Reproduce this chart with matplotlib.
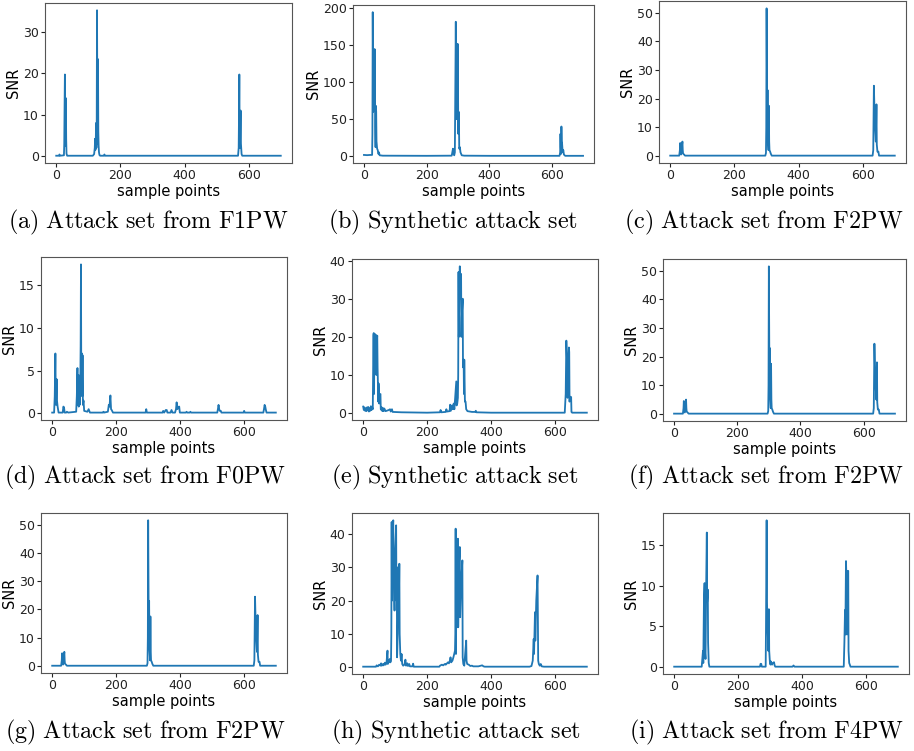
import matplotlib
matplotlib.use("Agg")
import matplotlib.pyplot as plt

plt.rcParams['mathtext.fontset'] = 'cm'
plt.rcParams['font.family'] = ['DejaVu Sans']

# ---------------- data (sample index, SNR) ----------------
a_pts = [(0,0.1),(9,0.1),(10,0.4),(12,0.1),(24,0.2),(25,3.0),(26,12.0),(27,19.7),(28,9.0),(29,2.5),
         (30,14.0),(31,4.0),(32,0.6),(34,0.1),(114,0.1),(118,0.5),(120,2.0),(121,4.2),(122,1.5),(123,3.0),
         (124,8.0),(125,2.0),(126,6.0),(127,35.2),(128,12.0),(129,3.0),(130,23.4),(131,6.0),(132,2.5),
         (133,1.0),(134,0.5),(135,0.2),(137,0.1),(148,0.1),(150,0.4),(152,0.1),(566,0.1),(568,2.0),
         (569,10.0),(570,19.7),(571,5.0),(572,2.0),(574,11.0),(575,3.0),(577,0.5),(579,0.1),(699,0.1)]

b_pts = [(0,1.5),(10,1.2),(20,1.5),(26,1.5),(27,30),(28,195),(29,120),(30,60),(31,143),(32,100),(33,62),
         (34,145),(35,110),(36,40),(37,12),(38,68),(39,60),(40,20),(42,10),(44,8),(46,3),(48,5),(50,1),
         (60,0.5),(200,0.3),(280,0.5),(284,10),(286,3),(288,1),(290,5),(292,120),(293,182),(294,100),
         (295,50),(296,148),(297,120),(298,52),(299,152),(300,100),(301,30),(302,60),(303,55),(304,10),
         (306,12),(308,5),(312,1),(320,0.5),(400,0.3),(624,0.3),(626,5),(627,30),(628,12),(629,3),
         (630,40),(631,20),(632,18),(634,5),(636,8),(638,2),(642,0.3),(699,0.3)]

c_pts = [(0,0.1),(28,0.1),(30,2),(31,4.5),(32,1),(34,0.5),(36,3),(38,5),(39,2),(40,0.8),(43,0.5),(46,0.1),
         (296,0.1),(298,1),(299,10),(300,51.5),(301,30),(302,8),(303,23),(304,6),(306,2),(307,17.5),
         (308,5),(309,2),(311,1.5),(313,0.8),(316,0.1),(630,0.1),(632,2),(634,24.5),(636,15),(638,9.5),
         (640,5),(642,18),(643,4),(645,1.5),(648,1.5),(650,0.1),(699,0.1)]

d_pts = [(0,0.1),(6,0.1),(8,2),(10,7),(11,3),(12,1),(14,4),(15,1.5),(17,0.8),(20,0.1),(33,0.1),(35,0.8),
         (37,0.7),(39,0.1),(44,0.1),(46,0.2),(50,0.1),(75,0.2),(77,2),(79,5.3),(80,1),(82,4.5),(83,0.8),
         (85,4),(86,1),(88,4),(89,8),(90,17.4),(91,3),(93,7),(94,2),(95,6.8),(96,1),(98,1.5),(100,0.3),
         (110,0.2),(114,0.5),(118,0.1),(158,0.1),(160,0.2),(162,0.1),(174,0.2),(177,1),(179,0.8),
         (182,2.1),(184,0.5),(186,0.4),(190,0.1),(292,0.1),(294,0.5),(296,0.1),(345,0.1),(347,0.3),
         (350,0.1),(355,0.4),(358,0.4),(360,0.1),(370,0.1),(373,0.4),(376,0.1),(384,0.1),(387,0.5),
         (389,1.3),(391,0.5),(393,0.8),(395,0.6),(397,0.8),(399,0.1),(418,0.1),(420,0.2),(422,0.1),
         (430,0.1),(432,0.2),(434,0.1),(516,0.1),(518,0.5),(520,1),(522,0.5),(524,0.3),(527,0.3),
         (529,0.1),(598,0.1),(600,0.3),(602,0.1),(660,0.1),(662,0.5),(664,1),(666,0.8),(668,0.4),
         (670,0.1),(699,0.1)]

e_pts = [(0,1.7),(2,0.8),(4,1.5),(6,0.6),(8,1.2),(10,0.5),(12,1.5),(14,0.7),(16,1.6),(18,0.4),(20,1.2),
         (22,0.6),(24,1.8),(26,0.8),(28,1.5),(30,1),(31,10),(32,20.5),(33,21),(34,5),(35,20),(36,20.8),
         (37,12),(38,20.3),(39,19),(40,20.5),(41,10),(42,20.2),(43,19.5),(44,20.3),(45,12),(46,8),(47,3),
         (48,7.8),(49,6),(50,2.5),(52,4.8),(54,5),(55,1),(57,0.8),(58,1.5),(60,0.5),(62,1.3),(64,0.5),
         (66,1.2),(70,0.5),(80,0.8),(84,1),(86,0.4),(90,1),(92,0.3),(120,0.2),(200,0.1),(240,0.2),
         (242,0.8),(244,0.2),(258,0.3),(260,1),(262,0.4),(270,0.5),(272,2.2),(274,0.6),(278,2),(280,1),
         (283,2.5),(285,1),(291,8.3),(292,2),(294,2.5),(296,4),(297,10),(298,37),(299,20),(302,38.5),
         (303,30),(306,36.5),(307,20),(308,25),(311,30),(312,12),(314,14),(315,5),(316,14),(318,3),
         (320,3),(322,1),(326,0.5),(340,0.3),(350,0.3),(352,0.6),(354,0.2),(400,0.1),(630,0.1),(633,5),
         (635,19),(637,14),(639,4),(641,13),(643,17.2),(644,16),(645,3),(646,4.3),(650,4.2),(651,0.3),
         (653,0.1),(699,0.1)]

h_pts = [(0,0.2),(40,0.2),(42,0.6),(46,0.3),(50,0.8),(54,0.5),(56,1.2),(58,0.5),(62,1),(64,0.6),(68,1.4),
         (70,0.8),(73,1.5),(76,5),(77,1),(79,2),(81,1.5),(83,2.5),(85,1.5),(87,2),(88,10),(89,43.5),
         (90,20),(91,40),(94,44),(95,30),(98,17),(100,35),(103,42.5),(104,20),(105,30),(106,3),(108,10),
         (110,25),(111,15),(113,31),(114,10),(116,4),(118,2),(120,4),(122,1),(125,0.5),(129,0.8),
         (132,2.3),(134,0.5),(138,1.2),(140,0.4),(144,1),(146,0.3),(154,0.3),(156,1.1),(158,0.2),
         (238,0.2),(240,0.5),(246,0.8),(250,0.6),(255,1),(258,0.8),(262,1.2),(265,1.5),(268,1.2),
         (271,2),(273,3),(275,1.5),(279,2),(282,3),(287,5),(288,10),(289,41.5),(290,4),(292,35),
         (294,12),(296,38.5),(297,12),(299,30),(302,36),(303,15),(306,25),(310,32),(311,3),(313,1),
         (316,0.5),(318,3),(322,8),(323,2),(325,1),(330,0.8),(335,0.4),(340,0.5),(344,0.3),(360,0.3),
         (372,0.6),(376,0.3),(380,0.2),(520,0.2),(526,0.4),(530,2),(533,8.5),(534,4),(537,16.5),
         (538,8),(541,20),(545,27.5),(546,15),(547,2),(549,1),(552,0.5),(555,1),(558,0.3),(565,0.2),
         (699,0.2)]

i_pts = [(0,0.05),(86,0.05),(88,1),(90,2),(91,0.5),(93,8),(95,10.3),(96,2),(98,1),(100,10),(102,16.5),
         (103,8),(105,9.5),(106,3),(108,0.5),(110,0.05),(268,0.05),(270,0.4),(272,0.4),(274,0.05),
         (286,0.05),(287,5),(289,18),(290,8),(292,5),(294,2),(295,4),(296,7.1),(297,2),(299,0.7),
         (301,0.3),(302,0.7),(304,0.4),(306,0.3),(308,0.5),(312,0.6),(314,0.2),(316,0.05),(370,0.05),
         (373,0.2),(376,0.05),(530,0.05),(532,3),(534,7),(535,4),(537,13),(539,10),(540,4),(542,11.8),
         (544,11.8),(545,2),(547,0.5),(549,0.3),(551,0.05),(699,0.05)]

series = [a_pts, b_pts, c_pts, d_pts, e_pts, c_pts, c_pts, h_pts, i_pts]
captions = ["(a) Attack set from F1PW", "(b) Synthetic attack set", "(c) Attack set from F2PW",
            "(d) Attack set from F0PW", "(e) Synthetic attack set", "(f) Attack set from F2PW",
            "(g) Attack set from F2PW", "(h) Synthetic attack set", "(i) Attack set from F4PW"]
yticks = [[0, 10, 20, 30], [0, 50, 100, 150, 200], [0, 10, 20, 30, 40, 50],
          [0, 5, 10, 15], [0, 10, 20, 30, 40], [0, 10, 20, 30, 40, 50],
          [0, 10, 20, 30, 40, 50], [0, 10, 20, 30, 40], [0, 5, 10, 15]]
xticks = [0, 200, 400, 600]

# ---------------- layout (pixel boxes: left, top, right, bottom) ----------------
W, H = 914, 751
boxes = [(45, 3, 292, 163), (353, 5, 594, 163), (659, 1, 906, 163),
         (41, 257, 287, 420), (352, 259, 598, 420), (663, 259, 906, 421),
         (41, 513, 287, 673), (352, 513, 598, 674), (663, 513, 909, 674)]
cap_pos = [(148, 222), (453, 222), (764, 222),
           (145, 477), (455, 477), (766, 477),
           (145, 732), (456, 732), (767, 732)]

fig = plt.figure(figsize=(W / 100, H / 100), dpi=100)
for pts, cap, yt, (l, t, r, b), (cx, cy) in zip(series, captions, yticks, boxes, cap_pos):
    ax = fig.add_axes([l / W, 1 - b / H, (r - l) / W, (b - t) / H])
    xs = [p[0] for p in pts]
    ys = [p[1] for p in pts]
    ax.plot(xs, ys, color='#1f77b4', lw=1.3)
    ax.set_xticks(xticks)
    ax.set_yticks(yt)
    ax.tick_params(labelsize=9, colors='#222222', length=3, pad=1.5)
    for s in ax.spines.values():
        s.set_color('#555555')
    ax.set_xlabel('sample points', fontsize=10.5, labelpad=1.5)
    ax.set_ylabel('SNR', fontsize=10.5, labelpad=1)
    txt = r'$\mathrm{' + cap.replace(' ', r'\ ') + '}$'
    fig.text(cx / W, 1 - cy / H, txt, fontsize=17.4, ha='center', va='center')

fig.savefig('out.png', dpi=100)
